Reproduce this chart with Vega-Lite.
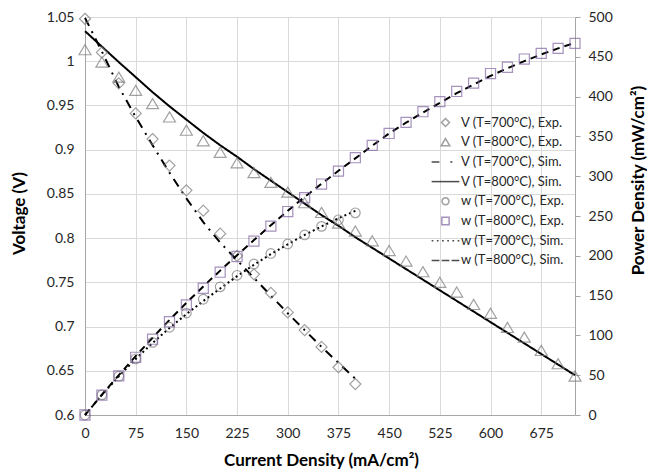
{
  "$schema": "https://vega.github.io/schema/vega-lite/v6.json",
  "width": 490,
  "height": 398,
  "autosize": {"type": "none"},
  "padding": {"left": 85, "top": 17, "right": 72, "bottom": 57},
  "background": "white",
  "config": {
    "font": "Lato",
    "view": {"stroke": null},
    "axis": {"labelFont": "Lato", "labelFontSize": 14, "labelColor": "#262626", "labelFlush": false, "titleFont": "Lato", "titleFontSize": 17, "titleFontWeight": "bold", "titleColor": "#000000", "domainColor": "#a6a6a6", "gridColor": "#d9d9d9", "tickColor": "#a6a6a6"}
  },
  "datasets": {
    "vexp": [
      {"series": "V (T=700°C), Exp.", "I": 0, "V": 1.048}, {"series": "V (T=700°C), Exp.", "I": 25, "V": 1.010}, {"series": "V (T=700°C), Exp.", "I": 50, "V": 0.975}, {"series": "V (T=700°C), Exp.", "I": 75, "V": 0.941}, {"series": "V (T=700°C), Exp.", "I": 100, "V": 0.912}, {"series": "V (T=700°C), Exp.", "I": 125, "V": 0.882}, {"series": "V (T=700°C), Exp.", "I": 150, "V": 0.854}, {"series": "V (T=700°C), Exp.", "I": 175, "V": 0.831}, {"series": "V (T=700°C), Exp.", "I": 200, "V": 0.805}, {"series": "V (T=700°C), Exp.", "I": 225, "V": 0.780}, {"series": "V (T=700°C), Exp.", "I": 250, "V": 0.759}, {"series": "V (T=700°C), Exp.", "I": 275, "V": 0.738}, {"series": "V (T=700°C), Exp.", "I": 300, "V": 0.716}, {"series": "V (T=700°C), Exp.", "I": 325, "V": 0.696}, {"series": "V (T=700°C), Exp.", "I": 350, "V": 0.677}, {"series": "V (T=700°C), Exp.", "I": 375, "V": 0.654}, {"series": "V (T=700°C), Exp.", "I": 400, "V": 0.635},
      {"series": "V (T=800°C), Exp.", "I": 0, "V": 1.013}, {"series": "V (T=800°C), Exp.", "I": 25, "V": 0.999}, {"series": "V (T=800°C), Exp.", "I": 50, "V": 0.982}, {"series": "V (T=800°C), Exp.", "I": 75, "V": 0.967}, {"series": "V (T=800°C), Exp.", "I": 100, "V": 0.952}, {"series": "V (T=800°C), Exp.", "I": 125, "V": 0.937}, {"series": "V (T=800°C), Exp.", "I": 150, "V": 0.922}, {"series": "V (T=800°C), Exp.", "I": 175, "V": 0.910}, {"series": "V (T=800°C), Exp.", "I": 200, "V": 0.897}, {"series": "V (T=800°C), Exp.", "I": 225, "V": 0.885}, {"series": "V (T=800°C), Exp.", "I": 250, "V": 0.874}, {"series": "V (T=800°C), Exp.", "I": 275, "V": 0.863}, {"series": "V (T=800°C), Exp.", "I": 300, "V": 0.852}, {"series": "V (T=800°C), Exp.", "I": 325, "V": 0.840}, {"series": "V (T=800°C), Exp.", "I": 350, "V": 0.829}, {"series": "V (T=800°C), Exp.", "I": 375, "V": 0.817}, {"series": "V (T=800°C), Exp.", "I": 400, "V": 0.808}, {"series": "V (T=800°C), Exp.", "I": 425, "V": 0.797}, {"series": "V (T=800°C), Exp.", "I": 450, "V": 0.786}, {"series": "V (T=800°C), Exp.", "I": 475, "V": 0.774}, {"series": "V (T=800°C), Exp.", "I": 500, "V": 0.762}, {"series": "V (T=800°C), Exp.", "I": 525, "V": 0.750}, {"series": "V (T=800°C), Exp.", "I": 550, "V": 0.739}, {"series": "V (T=800°C), Exp.", "I": 575, "V": 0.725}, {"series": "V (T=800°C), Exp.", "I": 600, "V": 0.715}, {"series": "V (T=800°C), Exp.", "I": 625, "V": 0.699}, {"series": "V (T=800°C), Exp.", "I": 650, "V": 0.688}, {"series": "V (T=800°C), Exp.", "I": 675, "V": 0.673}, {"series": "V (T=800°C), Exp.", "I": 700, "V": 0.658}, {"series": "V (T=800°C), Exp.", "I": 725, "V": 0.644}
    ],
    "vsim": [
      {"series": "V (T=700°C), Sim.", "I": 0, "V": 1.049}, {"series": "V (T=700°C), Sim.", "I": 25, "V": 1.011}, {"series": "V (T=700°C), Sim.", "I": 50, "V": 0.971}, {"series": "V (T=700°C), Sim.", "I": 75, "V": 0.937}, {"series": "V (T=700°C), Sim.", "I": 100, "V": 0.905}, {"series": "V (T=700°C), Sim.", "I": 125, "V": 0.874}, {"series": "V (T=700°C), Sim.", "I": 150, "V": 0.845}, {"series": "V (T=700°C), Sim.", "I": 175, "V": 0.818}, {"series": "V (T=700°C), Sim.", "I": 200, "V": 0.795}, {"series": "V (T=700°C), Sim.", "I": 225, "V": 0.775}, {"series": "V (T=700°C), Sim.", "I": 250, "V": 0.755}, {"series": "V (T=700°C), Sim.", "I": 275, "V": 0.735}, {"series": "V (T=700°C), Sim.", "I": 300, "V": 0.715}, {"series": "V (T=700°C), Sim.", "I": 325, "V": 0.696}, {"series": "V (T=700°C), Sim.", "I": 350, "V": 0.677}, {"series": "V (T=700°C), Sim.", "I": 375, "V": 0.659}, {"series": "V (T=700°C), Sim.", "I": 400, "V": 0.641},
      {"series": "V (T=800°C), Sim.", "I": 0, "V": 1.034}, {"series": "V (T=800°C), Sim.", "I": 25, "V": 1.0165}, {"series": "V (T=800°C), Sim.", "I": 50, "V": 0.999}, {"series": "V (T=800°C), Sim.", "I": 75, "V": 0.982}, {"series": "V (T=800°C), Sim.", "I": 100, "V": 0.965}, {"series": "V (T=800°C), Sim.", "I": 125, "V": 0.949}, {"series": "V (T=800°C), Sim.", "I": 150, "V": 0.934}, {"series": "V (T=800°C), Sim.", "I": 175, "V": 0.919}, {"series": "V (T=800°C), Sim.", "I": 200, "V": 0.905}, {"series": "V (T=800°C), Sim.", "I": 225, "V": 0.892}, {"series": "V (T=800°C), Sim.", "I": 250, "V": 0.878}, {"series": "V (T=800°C), Sim.", "I": 275, "V": 0.865}, {"series": "V (T=800°C), Sim.", "I": 300, "V": 0.852}, {"series": "V (T=800°C), Sim.", "I": 325, "V": 0.839}, {"series": "V (T=800°C), Sim.", "I": 350, "V": 0.826}, {"series": "V (T=800°C), Sim.", "I": 375, "V": 0.814}, {"series": "V (T=800°C), Sim.", "I": 400, "V": 0.801}, {"series": "V (T=800°C), Sim.", "I": 425, "V": 0.789}, {"series": "V (T=800°C), Sim.", "I": 450, "V": 0.777}, {"series": "V (T=800°C), Sim.", "I": 475, "V": 0.765}, {"series": "V (T=800°C), Sim.", "I": 500, "V": 0.753}, {"series": "V (T=800°C), Sim.", "I": 525, "V": 0.741}, {"series": "V (T=800°C), Sim.", "I": 550, "V": 0.729}, {"series": "V (T=800°C), Sim.", "I": 575, "V": 0.717}, {"series": "V (T=800°C), Sim.", "I": 600, "V": 0.705}, {"series": "V (T=800°C), Sim.", "I": 625, "V": 0.693}, {"series": "V (T=800°C), Sim.", "I": 650, "V": 0.681}, {"series": "V (T=800°C), Sim.", "I": 675, "V": 0.669}, {"series": "V (T=800°C), Sim.", "I": 700, "V": 0.657}, {"series": "V (T=800°C), Sim.", "I": 725, "V": 0.645}
    ],
    "wexp": [
      {"series": "w (T=700°C), Exp.", "I": 0, "P": 0}, {"series": "w (T=700°C), Exp.", "I": 25, "P": 25.25}, {"series": "w (T=700°C), Exp.", "I": 50, "P": 48.75}, {"series": "w (T=700°C), Exp.", "I": 75, "P": 70.58}, {"series": "w (T=700°C), Exp.", "I": 100, "P": 91.2}, {"series": "w (T=700°C), Exp.", "I": 125, "P": 110.25}, {"series": "w (T=700°C), Exp.", "I": 150, "P": 128.1}, {"series": "w (T=700°C), Exp.", "I": 175, "P": 145.43}, {"series": "w (T=700°C), Exp.", "I": 200, "P": 161.0}, {"series": "w (T=700°C), Exp.", "I": 225, "P": 175.5}, {"series": "w (T=700°C), Exp.", "I": 250, "P": 189.75}, {"series": "w (T=700°C), Exp.", "I": 275, "P": 202.95}, {"series": "w (T=700°C), Exp.", "I": 300, "P": 214.8}, {"series": "w (T=700°C), Exp.", "I": 325, "P": 226.2}, {"series": "w (T=700°C), Exp.", "I": 350, "P": 236.95}, {"series": "w (T=700°C), Exp.", "I": 375, "P": 245.25}, {"series": "w (T=700°C), Exp.", "I": 400, "P": 254.0},
      {"series": "w (T=800°C), Exp.", "I": 0, "P": 0}, {"series": "w (T=800°C), Exp.", "I": 25, "P": 24.98}, {"series": "w (T=800°C), Exp.", "I": 50, "P": 49.1}, {"series": "w (T=800°C), Exp.", "I": 75, "P": 72.53}, {"series": "w (T=800°C), Exp.", "I": 100, "P": 95.2}, {"series": "w (T=800°C), Exp.", "I": 125, "P": 117.13}, {"series": "w (T=800°C), Exp.", "I": 150, "P": 138.3}, {"series": "w (T=800°C), Exp.", "I": 175, "P": 159.25}, {"series": "w (T=800°C), Exp.", "I": 200, "P": 179.4}, {"series": "w (T=800°C), Exp.", "I": 225, "P": 199.13}, {"series": "w (T=800°C), Exp.", "I": 250, "P": 218.5}, {"series": "w (T=800°C), Exp.", "I": 275, "P": 237.33}, {"series": "w (T=800°C), Exp.", "I": 300, "P": 255.6}, {"series": "w (T=800°C), Exp.", "I": 325, "P": 273.0}, {"series": "w (T=800°C), Exp.", "I": 350, "P": 290.15}, {"series": "w (T=800°C), Exp.", "I": 375, "P": 306.38}, {"series": "w (T=800°C), Exp.", "I": 400, "P": 323.2}, {"series": "w (T=800°C), Exp.", "I": 425, "P": 338.73}, {"series": "w (T=800°C), Exp.", "I": 450, "P": 353.7}, {"series": "w (T=800°C), Exp.", "I": 475, "P": 367.65}, {"series": "w (T=800°C), Exp.", "I": 500, "P": 381.0}, {"series": "w (T=800°C), Exp.", "I": 525, "P": 393.75}, {"series": "w (T=800°C), Exp.", "I": 550, "P": 406.45}, {"series": "w (T=800°C), Exp.", "I": 575, "P": 416.88}, {"series": "w (T=800°C), Exp.", "I": 600, "P": 429.0}, {"series": "w (T=800°C), Exp.", "I": 625, "P": 436.88}, {"series": "w (T=800°C), Exp.", "I": 650, "P": 447.2}, {"series": "w (T=800°C), Exp.", "I": 675, "P": 454.28}, {"series": "w (T=800°C), Exp.", "I": 700, "P": 460.6}, {"series": "w (T=800°C), Exp.", "I": 725, "P": 466.9}
    ],
    "wsim": [
      {"series": "w (T=700°C), Sim.", "I": 0, "P": 0}, {"series": "w (T=700°C), Sim.", "I": 25, "P": 25.28}, {"series": "w (T=700°C), Sim.", "I": 50, "P": 48.55}, {"series": "w (T=700°C), Sim.", "I": 75, "P": 70.28}, {"series": "w (T=700°C), Sim.", "I": 100, "P": 90.5}, {"series": "w (T=700°C), Sim.", "I": 125, "P": 109.25}, {"series": "w (T=700°C), Sim.", "I": 150, "P": 126.75}, {"series": "w (T=700°C), Sim.", "I": 175, "P": 143.15}, {"series": "w (T=700°C), Sim.", "I": 200, "P": 159.0}, {"series": "w (T=700°C), Sim.", "I": 225, "P": 174.38}, {"series": "w (T=700°C), Sim.", "I": 250, "P": 188.75}, {"series": "w (T=700°C), Sim.", "I": 275, "P": 202.13}, {"series": "w (T=700°C), Sim.", "I": 300, "P": 214.5}, {"series": "w (T=700°C), Sim.", "I": 325, "P": 226.2}, {"series": "w (T=700°C), Sim.", "I": 350, "P": 236.95}, {"series": "w (T=700°C), Sim.", "I": 375, "P": 247.13}, {"series": "w (T=700°C), Sim.", "I": 400, "P": 256.4},
      {"series": "w (T=800°C), Sim.", "I": 0, "P": 0}, {"series": "w (T=800°C), Sim.", "I": 25, "P": 25.45}, {"series": "w (T=800°C), Sim.", "I": 50, "P": 50.1}, {"series": "w (T=800°C), Sim.", "I": 75, "P": 74.03}, {"series": "w (T=800°C), Sim.", "I": 100, "P": 97.1}, {"series": "w (T=800°C), Sim.", "I": 125, "P": 119.38}, {"series": "w (T=800°C), Sim.", "I": 150, "P": 140.85}, {"series": "w (T=800°C), Sim.", "I": 175, "P": 161.53}, {"series": "w (T=800°C), Sim.", "I": 200, "P": 181.4}, {"series": "w (T=800°C), Sim.", "I": 225, "P": 200.7}, {"series": "w (T=800°C), Sim.", "I": 250, "P": 219.75}, {"series": "w (T=800°C), Sim.", "I": 275, "P": 238.43}, {"series": "w (T=800°C), Sim.", "I": 300, "P": 256.5}, {"series": "w (T=800°C), Sim.", "I": 325, "P": 273.98}, {"series": "w (T=800°C), Sim.", "I": 350, "P": 290.5}, {"series": "w (T=800°C), Sim.", "I": 375, "P": 306.75}, {"series": "w (T=800°C), Sim.", "I": 400, "P": 322.4}, {"series": "w (T=800°C), Sim.", "I": 425, "P": 338.3}, {"series": "w (T=800°C), Sim.", "I": 450, "P": 353.7}, {"series": "w (T=800°C), Sim.", "I": 475, "P": 367.18}, {"series": "w (T=800°C), Sim.", "I": 500, "P": 380.0}, {"series": "w (T=800°C), Sim.", "I": 525, "P": 392.18}, {"series": "w (T=800°C), Sim.", "I": 550, "P": 404.25}, {"series": "w (T=800°C), Sim.", "I": 575, "P": 415.15}, {"series": "w (T=800°C), Sim.", "I": 600, "P": 426.0}, {"series": "w (T=800°C), Sim.", "I": 625, "P": 435.63}, {"series": "w (T=800°C), Sim.", "I": 650, "P": 444.6}, {"series": "w (T=800°C), Sim.", "I": 675, "P": 452.93}, {"series": "w (T=800°C), Sim.", "I": 700, "P": 460.6}, {"series": "w (T=800°C), Sim.", "I": 725, "P": 467.63}
    ]
  },
  "encoding": {
    "x": {
      "field": "I", "type": "quantitative",
      "scale": {"domain": [0, 725], "nice": false, "zero": false},
      "axis": {"values": [0, 75, 150, 225, 300, 375, 450, 525, 600, 675], "title": "Current Density (mA/cm²)", "grid": true, "ticks": false, "labelPadding": 11, "titleX": 236, "titleY": 45, "titleBaseline": "middle", "titleAlign": "center"}
    }
  },
  "layer": [
    {
      "encoding": {
        "y": {
          "field": "V", "type": "quantitative",
          "scale": {"domain": [0.6, 1.05], "nice": false, "zero": false},
          "axis": {"orient": "left", "values": [0.6, 0.65, 0.7, 0.75, 0.8, 0.85, 0.9, 0.95, 1, 1.05], "format": "~g", "title": "Voltage (V)", "grid": true, "ticks": false, "labelPadding": 11, "titleX": -66, "titleY": 196, "titleAngle": 270, "titleBaseline": "middle", "titleAlign": "center"}
        }
      },
      "layer": [
        {
          "data": {"name": "vsim"},
          "mark": {"type": "line", "color": "#000000", "strokeWidth": 2},
          "encoding": {
            "strokeDash": {"field": "series", "type": "nominal",
              "scale": {"domain": ["V (T=700°C), Sim.", "V (T=800°C), Sim.", "w (T=700°C), Sim.", "w (T=800°C), Sim."], "range": [[9, 6, 2, 6], [1, 0], [2, 3], [7, 5]]},
              "legend": null}
          }
        },
        {
          "data": {"name": "vexp"},
          "mark": {"type": "point", "filled": false, "size": 576, "strokeWidth": 1.2},
          "encoding": {
            "shape": {"field": "series", "type": "nominal",
              "scale": {"domain": ["V (T=700°C), Exp.", "V (T=800°C), Exp.", "V (T=700°C), Sim.", "V (T=800°C), Sim.", "w (T=700°C), Exp.", "w (T=800°C), Exp.", "w (T=700°C), Sim.", "w (T=800°C), Sim."],
                "range": ["M0,-0.46L0.46,0L0,0.46L-0.46,0Z", "M0,-0.42L0.5,0.42L-0.5,0.42Z", "M-1.6,0H-0.7M0.55,0H0.8", "M-1.6,0H1.6", "M-0.4,0A0.4,0.4,0,1,1,0.4,0A0.4,0.4,0,1,1,-0.4,0Z", "M-0.42,-0.42H0.42V0.42H-0.42Z", "M-1.6,0H-1.4M-1,0H-0.8M-0.4,0H-0.2M0.2,0H0.4M0.8,0H1M1.4,0H1.6", "M-1.6,0H-0.7M-0.45,0H0.45M0.7,0H1.6"]},
              "legend": {"title": null, "orient": "none", "legendX": 351, "legendY": 96, "symbolSize": 300, "rowPadding": 2.7, "labelOffset": 6, "labelFontSize": 13, "labelFont": "Lato", "labelColor": "#262626", "padding": 0,
                "encode": {"symbols": {"update": {"size": {"value": 300}, "strokeWidth": {"signal": "test(/Sim/, datum.value) ? 2 : 1.2"}}}}}},
            "stroke": {"field": "series", "type": "nominal",
              "scale": {"domain": ["V (T=700°C), Exp.", "V (T=800°C), Exp.", "V (T=700°C), Sim.", "V (T=800°C), Sim.", "w (T=700°C), Exp.", "w (T=800°C), Exp.", "w (T=700°C), Sim.", "w (T=800°C), Sim."],
                "range": ["#7a7a7a", "#7a7a7a", "#000000", "#000000", "#7a7a7a", "#8064a2", "#000000", "#000000"]},
              "legend": {"title": null, "orient": "none", "legendX": 351, "legendY": 96, "symbolSize": 300, "rowPadding": 2.7, "labelOffset": 6, "labelFontSize": 13, "labelFont": "Lato", "labelColor": "#262626", "padding": 0,
                "encode": {"symbols": {"update": {"size": {"value": 300}, "strokeWidth": {"signal": "test(/Sim/, datum.value) ? 2 : 1.2"}}}}}}
          }
        }
      ]
    },
    {
      "encoding": {
        "y": {
          "field": "P", "type": "quantitative",
          "scale": {"domain": [0, 500], "nice": false},
          "axis": {"orient": "right", "values": [0, 50, 100, 150, 200, 250, 300, 350, 400, 450, 500], "title": "Power Density (mW/cm²)", "grid": false, "ticks": true, "tickSize": 5, "labelPadding": 8, "titleX": 63, "titleY": 163, "titleAngle": 270, "titleBaseline": "middle", "titleAlign": "center"}
        }
      },
      "layer": [
        {
          "data": {"name": "wsim"},
          "mark": {"type": "line", "color": "#000000", "strokeWidth": 2},
          "encoding": {
            "strokeDash": {"field": "series", "type": "nominal",
              "scale": {"domain": ["V (T=700°C), Sim.", "V (T=800°C), Sim.", "w (T=700°C), Sim.", "w (T=800°C), Sim."], "range": [[9, 6, 2, 6], [1, 0], [2, 3], [7, 5]]},
              "legend": null}
          }
        },
        {
          "data": {"name": "wexp"},
          "mark": {"type": "point", "filled": false, "size": 576, "strokeWidth": 1.2},
          "encoding": {
            "shape": {"field": "series", "type": "nominal",
              "scale": {"domain": ["V (T=700°C), Exp.", "V (T=800°C), Exp.", "V (T=700°C), Sim.", "V (T=800°C), Sim.", "w (T=700°C), Exp.", "w (T=800°C), Exp.", "w (T=700°C), Sim.", "w (T=800°C), Sim."],
                "range": ["M0,-0.46L0.46,0L0,0.46L-0.46,0Z", "M0,-0.42L0.5,0.42L-0.5,0.42Z", "M-1.6,0H-0.7M0.55,0H0.8", "M-1.6,0H1.6", "M-0.4,0A0.4,0.4,0,1,1,0.4,0A0.4,0.4,0,1,1,-0.4,0Z", "M-0.42,-0.42H0.42V0.42H-0.42Z", "M-1.6,0H-1.4M-1,0H-0.8M-0.4,0H-0.2M0.2,0H0.4M0.8,0H1M1.4,0H1.6", "M-1.6,0H-0.7M-0.45,0H0.45M0.7,0H1.6"]}},
            "stroke": {"field": "series", "type": "nominal",
              "scale": {"domain": ["V (T=700°C), Exp.", "V (T=800°C), Exp.", "V (T=700°C), Sim.", "V (T=800°C), Sim.", "w (T=700°C), Exp.", "w (T=800°C), Exp.", "w (T=700°C), Sim.", "w (T=800°C), Sim."],
                "range": ["#7a7a7a", "#7a7a7a", "#000000", "#000000", "#7a7a7a", "#8064a2", "#000000", "#000000"]}}
          }
        }
      ]
    }
  ],
  "resolve": {"scale": {"y": "independent"}}
}
